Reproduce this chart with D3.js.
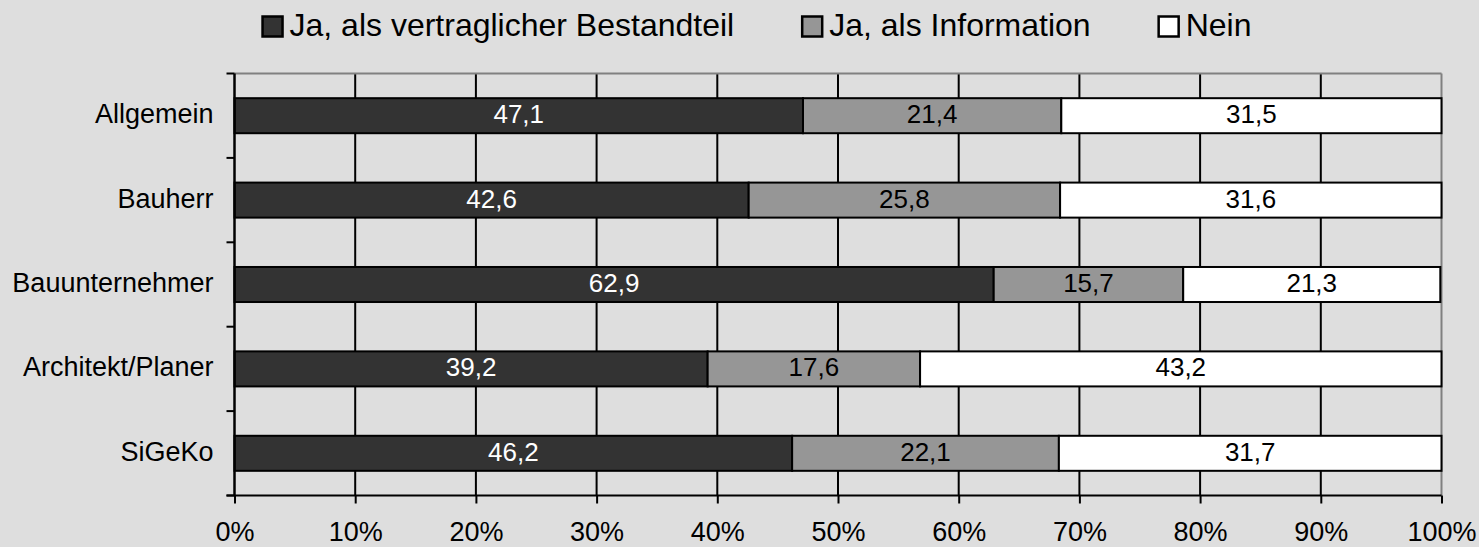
<!DOCTYPE html>
<html>
<head>
<meta charset="utf-8">
<script src="https://cdn.jsdelivr.net/npm/d3@7"></script>
<style>
  html, body { margin: 0; padding: 0; background: #dedede; }
  svg { display: block; font-family: "Liberation Sans", Arial, sans-serif; }
</style>
</head>
<body>
<div class="chart"></div>
<script>
// data
var categories = ["Allgemein", "Bauherr", "Bauunternehmer", "Architekt/Planer", "SiGeKo"];
var seriesNames = ["Ja, als vertraglicher Bestandteil", "Ja, als Information", "Nein"];
var vertraglich = [47.1, 42.6, 62.9, 39.2, 46.2];
var information = [21.4, 25.8, 15.7, 17.6, 22.1];
var nein = [31.5, 31.6, 21.3, 43.2, 31.7];
var tickValues = [0, 10, 20, 30, 40, 50, 60, 70, 80, 90, 100];

var colors = ["#333333", "#969696", "#ffffff"];
var textColors = ["#ffffff", "#000000", "#000000"];

var width = 1479, height = 547;
var margin = { top: 73.5, right: 37.5, bottom: 51.5, left: 234.5 };
var innerW = width - margin.left - margin.right;
var innerH = height - margin.top - margin.bottom;

var svg = d3.select(".chart")
  .append("svg")
  .attr("width", width)
  .attr("height", height);

svg.append("rect").attr("width", width).attr("height", height).attr("fill", "#dedede");

var g = svg.append("g")
  .attr("transform", "translate(" + margin.left + "," + margin.top + ")");

var x = d3.scaleLinear().domain([0, 100]).range([0, innerW]);
var y = d3.scaleBand().domain(categories).range([0, innerH])
  .paddingInner(0.585).paddingOuter(0.2925);

// build stacked rows
var rows = categories.map(function(c, i) {
  return { cat: c, values: [vertraglich[i], information[i], nein[i]] };
});
var segs = [];
rows.forEach(function(r) {
  var acc = 0;
  r.values.forEach(function(v, k) {
    segs.push({ cat: r.cat, k: k, v: v, x0: acc, x1: acc + v });
    acc += v;
  });
});

// vertical gridlines
g.append("g")
  .selectAll("line")
  .data(tickValues.filter(function(t) { return t > 0 && t < 100; }))
  .enter().append("line")
  .attr("x1", function(d) { return x(d); })
  .attr("x2", function(d) { return x(d); })
  .attr("y1", 0).attr("y2", innerH)
  .attr("stroke", "#000").attr("stroke-width", 2);

// top and right border
g.append("line").attr("x1", 0).attr("x2", innerW).attr("y1", 0).attr("y2", 0)
  .attr("stroke", "#808080").attr("stroke-width", 2);
g.append("line").attr("x1", innerW).attr("x2", innerW).attr("y1", 0).attr("y2", innerH)
  .attr("stroke", "#808080").attr("stroke-width", 2);

// bars
g.append("g")
  .selectAll("rect")
  .data(segs)
  .enter().append("rect")
  .attr("x", function(d) { return x(d.x0); })
  .attr("y", function(d) { return y(d.cat); })
  .attr("width", function(d) { return x(d.x1) - x(d.x0); })
  .attr("height", y.bandwidth())
  .attr("fill", function(d) { return colors[d.k]; })
  .attr("stroke", "#000")
  .attr("stroke-width", 2);

// value labels
g.append("g")
  .selectAll("text")
  .data(segs)
  .enter().append("text")
  .attr("x", function(d) { return x((d.x0 + d.x1) / 2); })
  .attr("y", function(d) { return y(d.cat) + y.bandwidth() / 2 + 7.5; })
  .attr("text-anchor", "middle")
  .attr("font-size", "26px")
  .attr("fill", function(d) { return textColors[d.k]; })
  .text(function(d) { return d3.format(".1f")(d.v).replace(".", ","); });

// left axis with ticks at band boundaries
var step = y.step();
var bounds = d3.range(categories.length + 1).map(function(i) { return i * step; });
g.append("line").attr("x1", 0).attr("x2", 0).attr("y1", 0).attr("y2", innerH)
  .attr("stroke", "#000").attr("stroke-width", 2.5);
g.append("g").selectAll("line").data(bounds).enter().append("line")
  .attr("x1", -8).attr("x2", 0)
  .attr("y1", function(d) { return d; }).attr("y2", function(d) { return d; })
  .attr("stroke", "#000").attr("stroke-width", 2);

g.append("g").selectAll("text").data(categories).enter().append("text")
  .attr("x", -21)
  .attr("y", function(d) { return y(d) + y.bandwidth() / 2 + 7.5; })
  .attr("text-anchor", "end")
  .attr("font-size", "27px")
  .attr("fill", "#000")
  .text(function(d) { return d; });

// bottom axis
var xAxis = d3.axisBottom(x)
  .tickValues(tickValues)
  .tickSize(8)
  .tickSizeOuter(0)
  .tickPadding(18)
  .tickFormat(function(d) { return d + "%"; });
var ax = g.append("g")
  .attr("transform", "translate(0," + innerH + ")")
  .call(xAxis);
ax.select(".domain").attr("stroke", "#000").attr("stroke-width", 2).attr("d", "M-8,0H" + innerW);
ax.selectAll(".tick line").attr("stroke", "#000").attr("stroke-width", 2);
ax.selectAll(".tick text")
  .attr("font-size", "27px")
  .attr("font-family", "Liberation Sans, Arial, sans-serif")
  .attr("fill", "#000");

// legend
var legend = svg.append("g").attr("id", "legend");
var items = legend.selectAll("g").data(seriesNames).enter().append("g");
items.append("rect")
  .attr("width", 20).attr("height", 20)
  .attr("y", 16.5)
  .attr("fill", function(d, i) { return colors[i]; })
  .attr("stroke", "#000").attr("stroke-width", 2.5);
items.append("text")
  .attr("x", 27).attr("y", 36)
  .attr("font-size", "32px")
  .attr("fill", "#000")
  .text(function(d) { return d; });

var gap = 68;
var pos = 0, xs = [];
items.each(function() {
  xs.push(pos);
  var tw = d3.select(this).select("text").node().getComputedTextLength();
  pos += 27 + tw + gap;
});
var total = pos - gap;
var startX = 757 - total / 2;
items.attr("transform", function(d, i) { return "translate(" + (startX + xs[i]) + ",0)"; });
</script>
</body>
</html>
